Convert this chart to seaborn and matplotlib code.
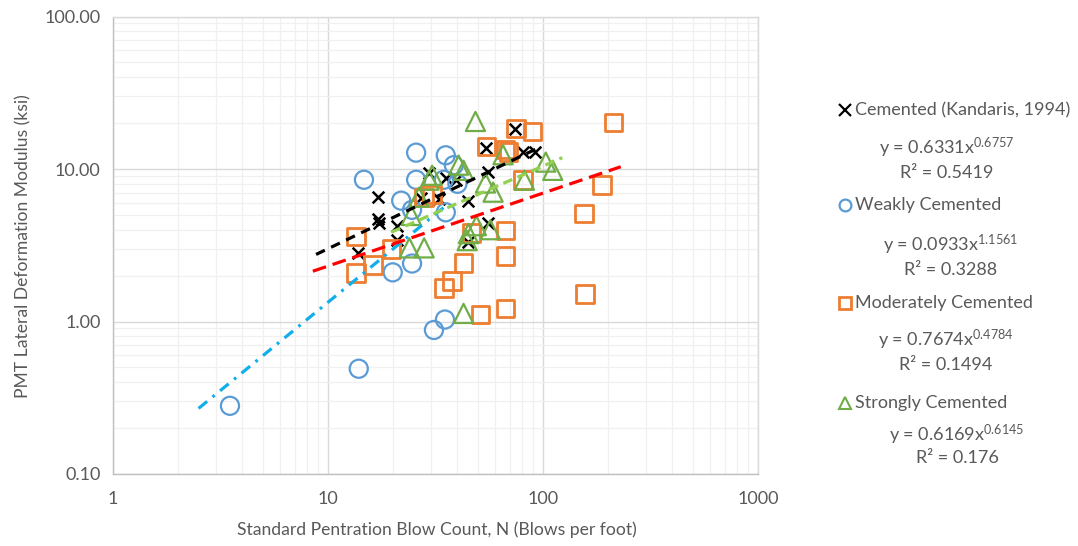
import numpy as np
import pandas as pd
import matplotlib
matplotlib.use("Agg")
import matplotlib.pyplot as plt
import seaborn as sns
from matplotlib.lines import Line2D
from matplotlib.ticker import LogLocator, FixedLocator, FixedFormatter, NullFormatter

# ---------------- data ----------------
cem_n = [13.8, 17.0, 17.0, 17.3, 21.0, 21.0, 27.1, 29.5, 32.8, 35.3, 39.3, 45.0, 45.0,
         55.7, 55.7, 54.5, 74.0, 80.6, 91.5]
cem_e = [2.8, 6.6, 4.7, 4.4, 4.2, 3.4, 6.5, 9.4, 6.4, 8.7, 8.5, 6.2, 3.3,
         9.5, 4.4, 13.8, 18.4, 13.0, 13.0]

weak_n = [3.5, 13.9, 14.7, 20.0, 21.9, 24.6, 24.6, 25.7, 25.7, 31.1, 34.6, 35.3, 35.3,
          35.0, 38.5, 40.0]
weak_e = [0.28, 0.49, 8.5, 2.1, 6.2, 5.4, 2.4, 12.8, 8.5, 0.88, 8.5, 12.3, 5.2,
          1.03, 10.6, 8.0]

mod_n = [13.5, 13.5, 16.2, 19.7, 28.0, 30.5, 46.5, 42.7, 34.6, 37.7, 51.2, 67.0, 75.0,
         89.5, 54.5, 67.0, 69.0, 80.6, 213.0, 188.0, 155.0, 67.0, 67.0, 157.0]
mod_e = [3.6, 2.08, 2.35, 3.0, 6.5, 6.8, 3.8, 2.42, 1.66, 1.84, 1.11, 1.22, 18.4,
         17.6, 14.0, 13.4, 12.9, 8.45, 20.2, 7.83, 5.1, 3.95, 2.69, 1.51]

strong_n = [24.4, 29.5, 30.5, 40.5, 42.7, 26.5, 23.9, 28.0, 45.0, 44.4, 49.0, 56.9,
            48.5, 65.2, 54.0, 58.6, 82.0, 103.0, 111.0, 42.7]
strong_e = [4.96, 8.45, 9.1, 10.6, 9.8, 6.53, 3.04, 3.04, 3.77, 3.39, 4.25, 4.0,
            20.5, 12.4, 8.1, 7.05, 8.45, 11.1, 9.8, 1.13]

# power-law trendlines y = a * x^b (as printed) and their drawn x extent
cem_fit = (0.6331, 0.6757, 0.5419)
weak_fit = (0.0933, 1.1561, 0.3288)
mod_fit = (0.7674, 0.4784, 0.1494)
strong_fit = (0.6169, 0.6145, 0.176)
cem_span = [8.8, 95.0]
weak_span = [2.5, 36.0]
mod_span = [8.5, 230.0]
strong_span = [19.7, 123.0]

series_names = ["Cemented (Kandaris, 1994)", "Weakly Cemented",
                "Moderately Cemented", "Strongly Cemented"]
y_ticks = [0.1, 1, 10, 100]
y_tick_labels = ["0.10", "1.00", "10.00", "100.00"]
x_ticks = [1, 10, 100, 1000]
x_tick_labels = ["1", "10", "100", "1000"]
x_label = "Standard Pentration Blow Count, N (Blows per foot)"
y_label = "PMT Lateral Deformation Modulus (ksi)"

# ---------------- style ----------------
sns.set_theme(style="white")
plt.rcParams['font.family'] = ['Lato', 'DejaVu Sans']
plt.rcParams['mathtext.fontset'] = 'custom'
plt.rcParams['mathtext.rm'] = 'Lato'
plt.rcParams['mathtext.it'] = 'Lato'
plt.rcParams['lines.scale_dashes'] = False

TXT = "#595959"
C_BLUE = "#5B9BD5"
C_ORANGE = "#ED7D31"
C_GREEN = "#70AD47"

W, H = 1078, 546
fig = plt.figure(figsize=(W / 100, H / 100), dpi=100)
fig.patch.set_facecolor("white")
ax = fig.add_axes([113 / W, 1 - 474 / H, 645 / W, 457.5 / H])
ax.set_xscale("log")
ax.set_yscale("log")
ax.set_xlim(1, 1000)
ax.set_ylim(0.1, 100)

# grid
ax.xaxis.set_minor_locator(LogLocator(base=10, subs=np.arange(2, 10)))
ax.yaxis.set_minor_locator(LogLocator(base=10, subs=np.arange(2, 10)))
ax.xaxis.set_minor_formatter(NullFormatter())
ax.yaxis.set_minor_formatter(NullFormatter())
ax.grid(which="major", color="#D9D9D9", linewidth=1.0, zorder=0)
ax.grid(which="minor", color="#F0F0F0", linewidth=0.9, zorder=0)
ax.set_axisbelow(True)
for sp in ax.spines.values():
    sp.set_color("#D9D9D9")
    sp.set_linewidth(1.0)
ax.spines["left"].set_color("#BFBFBF")
ax.spines["bottom"].set_color("#BFBFBF")

ax.xaxis.set_major_locator(FixedLocator(x_ticks))
ax.xaxis.set_major_formatter(FixedFormatter(x_tick_labels))
ax.yaxis.set_major_locator(FixedLocator(y_ticks))
ax.yaxis.set_major_formatter(FixedFormatter(y_tick_labels))
ax.tick_params(axis="both", which="major", labelsize=13, colors=TXT,
               length=5, width=1, direction="out", color="#BFBFBF")
ax.tick_params(axis="both", which="minor", length=0)
ax.tick_params(axis="x", pad=7)
ax.tick_params(axis="y", pad=4)

# ---------------- scatter ----------------
sns.scatterplot(x=cem_n, y=cem_e, marker="x", color="black", s=70,
                linewidth=1.8, ax=ax, zorder=3)
sns.scatterplot(x=weak_n, y=weak_e, marker="o", s=170, facecolor="none",
                edgecolor=C_BLUE, linewidth=1.6, ax=ax, zorder=3)
sns.scatterplot(x=mod_n, y=mod_e, marker="s", s=160, facecolor="none",
                edgecolor=C_ORANGE, linewidth=2.0, ax=ax, zorder=3)
sns.scatterplot(x=strong_n, y=strong_e, marker="^", s=190, facecolor="none",
                edgecolor=C_GREEN, linewidth=1.6, ax=ax, zorder=3)

# ---------------- trendlines ----------------
def trend(span, fit):
    xs = np.array(span, dtype=float)
    return xs, fit[0] * xs ** fit[1]

tx, ty = trend(cem_span, cem_fit)
sns.lineplot(x=tx, y=ty, ax=ax, color="black", linewidth=2.3,
             linestyle=(0, (7, 5)), zorder=4)
tx, ty = trend(weak_span, weak_fit)
sns.lineplot(x=tx, y=ty, ax=ax, color="#12AEEA", linewidth=2.3,
             linestyle=(0, (8, 5, 2, 5)), zorder=4)
tx, ty = trend(mod_span, mod_fit)
sns.lineplot(x=tx, y=ty, ax=ax, color="#FF0000", linewidth=2.3,
             linestyle=(0, (10, 5)), zorder=4)
tx, ty = trend(strong_span, strong_fit)
sns.lineplot(x=tx, y=ty, ax=ax, color="#92D050", linewidth=2.3,
             linestyle=(0, (7, 4)), zorder=4)

ax.set_xlabel(x_label, fontsize=12.6, color=TXT)
ax.set_ylabel(y_label, fontsize=12.6, color=TXT)
ax.xaxis.set_label_coords((437 - 113) / 645, -(521 - 474) / 457.5)
ax.yaxis.set_label_coords(-(113 - 31) / 645, (474 - 246) / 457.5)

# ---------------- legend (manual, Excel style) ----------------
def fx(px):
    return px / W

def fy(py):
    return 1 - py / H

markers = [("x", "black", "none", 1.6, 8),
           ("o", C_BLUE, "none", 1.6, 8.5),
           ("s", C_ORANGE, "none", 2.0, 8),
           ("^", C_GREEN, "none", 1.5, 8.5)]
rows = [110, 205, 303, 403]
eq_rows = [(148, 173, 947), (245, 270, 951), (340, 365, 946), (435, 458, 957)]
fits = [cem_fit, weak_fit, mod_fit, strong_fit]

for name, (mk, col, fc, lw, ms), ry, (ey, ry2, cx), fit in zip(
        series_names, markers, rows, eq_rows, fits):
    fig.add_artist(Line2D([fx(845)], [fy(ry)], marker=mk, markersize=ms,
                          markerfacecolor=fc if mk != "x" else col,
                          markeredgecolor=col, markeredgewidth=lw,
                          linestyle="none", transform=fig.transFigure))
    fig.text(fx(855), fy(ry), name, fontsize=13, color=TXT,
             ha="left", va="center")
    eq = r"y = %.4gx$^{\mathregular{%s}}$" % (fit[0], ("%.4f" % fit[1]))
    fig.text(fx(cx), fy(ey), eq, fontsize=13, color=TXT, ha="center", va="center")
    fig.text(fx(cx), fy(ry2), "R² = %s" % ("%g" % fit[2]), fontsize=13,
             color=TXT, ha="center", va="center")

fig.savefig("out.png", dpi=100, facecolor="white")
